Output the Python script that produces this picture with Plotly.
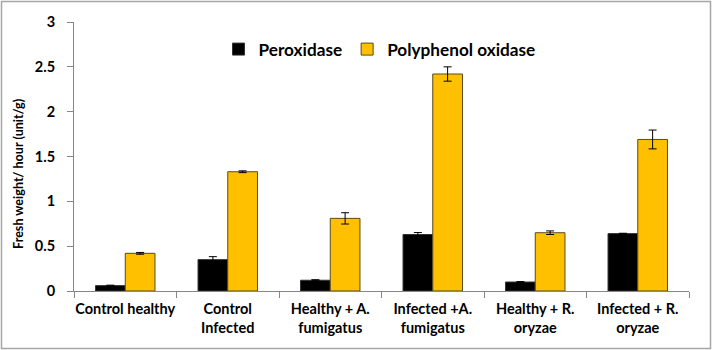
import plotly.graph_objects as go

categories = ["Control healthy", "Control<br>Infected", "Healthy + A.<br>fumigatus",
              "Infected +A.<br>fumigatus", "Healthy + R.<br>oryzae", "Infected + R.<br>oryzae"]
peroxidase = [0.06, 0.35, 0.12, 0.63, 0.10, 0.64]
peroxidase_err = [0.005, 0.033, 0.006, 0.022, 0.005, 0.004]
ppo = [0.42, 1.33, 0.81, 2.42, 0.65, 1.69]
ppo_err = [0.01, 0.01, 0.063, 0.08, 0.02, 0.105]
y_ticks = [0, 0.5, 1, 1.5, 2, 2.5, 3]
y_ticklabels = ["0", "0.5", "1", "1.5", "2", "2.5", "3"]
y_title = "Fresh weight/ hour (unit/g)"

W, H = 712, 350
ml, mr, mt, mb = 74, 23, 22, 59

fnt = dict(family="Lato, 'Open Sans', sans-serif", color="black", weight="bold")

fig = go.Figure()
fig.add_trace(go.Bar(
    name="Peroxidase", x=categories, y=peroxidase,
    marker=dict(color="black", line=dict(color="#333333", width=1)),
    error_y=dict(type="data", array=peroxidase_err, color="black", thickness=1, width=4),
))
fig.add_trace(go.Bar(
    name="Polyphenol oxidase", x=categories, y=ppo,
    marker=dict(color="#FFC000", line=dict(color="#5a4a1a", width=1)),
    error_y=dict(type="data", array=ppo_err, color="black", thickness=1, width=4),
))

pw = W - ml - mr
ph = H - mt - mb
fig.add_shape(type="rect", xref="paper", yref="paper",
              x0=(1.5 - ml) / pw, x1=(W - 1.5 - ml) / pw,
              y0=-(mb - 1.5) / ph, y1=1 + (mt - 1.5) / ph,
              line=dict(color="#a6a6a6", width=1.5), layer="above")

fig.add_annotation(text=y_title, textangle=-90, showarrow=False,
                   xref="paper", yref="paper", x=(19 - ml) / pw, y=0.435,
                   xanchor="center", yanchor="middle", font=dict(size=12.6, **fnt))

fig.update_layout(
    width=W, height=H,
    margin=dict(l=ml, r=mr, t=mt, b=mb, autoexpand=False),
    paper_bgcolor="white", plot_bgcolor="white",
    barmode="group", bargap=0.42, bargroupgap=0,
    showlegend=True,
    legend=dict(orientation="h", x=0.235, y=0.965, xanchor="left", yanchor="top",
                font=dict(size=17.2, **fnt), bgcolor="rgba(0,0,0,0)",
                itemwidth=30, tracegroupgap=0),
    xaxis=dict(showline=True, linecolor="#868686", linewidth=1,
               ticks="outside", tickson="boundaries", ticklen=6, tickcolor="#868686",
               tickfont=dict(size=14.5, **fnt), showgrid=False,
               tickangle=0, automargin=False, ticklabelstandoff=5),
    yaxis=dict(range=[0, 3], tickvals=y_ticks, ticktext=y_ticklabels,
               showline=True, linecolor="#868686", linewidth=1,
               ticks="outside", ticklen=6, tickcolor="#868686",
               tickfont=dict(size=14.5, **fnt), showgrid=False, zeroline=False,
               automargin=False, ticklabelstandoff=9),
)

fig.write_html("out.html", config={"displayModeBar": False},
               post_script="document.body.style.margin='0';document.body.style.padding='0';")
